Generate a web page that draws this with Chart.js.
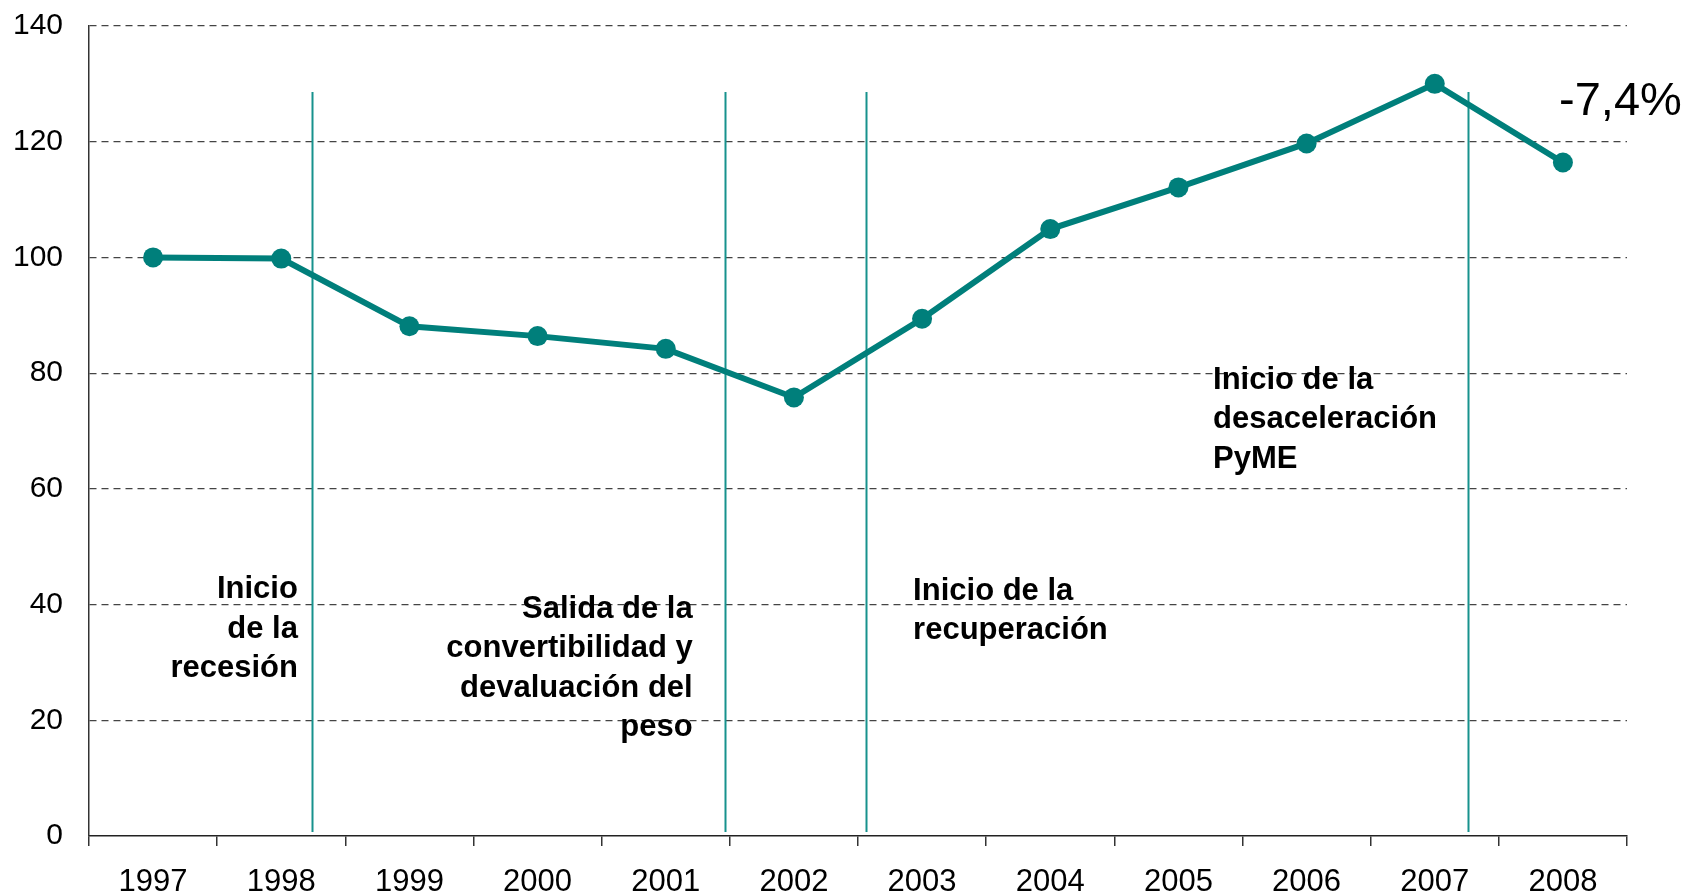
<!DOCTYPE html>
<html>
<head>
<meta charset="utf-8">
<script src="https://cdn.jsdelivr.net/npm/chart.js@4.4.1/dist/chart.umd.min.js"></script>
<style>
  html, body { margin: 0; padding: 0; background: #fff; }
  canvas { display: block; }
</style>
</head>
<body>
<canvas id="pymeChart" width="1688" height="896"></canvas>
<script>
const years = ['1997', '1998', '1999', '2000', '2001', '2002', '2003', '2004', '2005', '2006', '2007', '2008'];
const indice = [100, 99.8, 88.1, 86.4, 84.2, 75.8, 89.4, 104.9, 112.1, 119.7, 130.0, 116.4];
const yTicks = [0, 20, 40, 60, 80, 100, 120, 140];

// cortes entre etapas (posicion en el eje de categorias)
const cortes = [1.24, 4.46, 5.56, 10.26];
const corteDesde = 0.7;
const corteHasta = 128.6;

// textos de cada etapa: [x en categorias, y en valor, alineacion, lineas]
const etapas = [
    [1.13, 42.6, 'right', ['Inicio', 'de la', 'recesión']],
    [4.21, 39.2, 'right', ['Salida de la', 'convertibilidad y', 'devaluación del', 'peso']],
    [5.93, 42.3, 'left', ['Inicio de la', 'recuperación']],
    [8.27, 78.8, 'left', ['Inicio de la', 'desaceleración', 'PyME']]
];
const variacion = [10.97, 126.9, '-7,4%'];

const teal = '#007f7b';
const FONT = '"Liberation Sans", Arial, sans-serif';

function texto(ctx, t, x, y, align) {
    ctx.textAlign = align;
    ctx.textBaseline = 'middle';
    ctx.fillText(t, x, y);
}

const etapasPlugin = {
    id: 'etapas',
    beforeDatasetsDraw(chart) {
        const { ctx, scales: { x, y } } = chart;
        ctx.save();
        ctx.strokeStyle = '#17928d';
        ctx.lineWidth = 2;
        cortes.forEach(c => {
            const px = Math.round(x.getPixelForValue(c)) + 0.5;
            ctx.beginPath();
            ctx.moveTo(px, y.getPixelForValue(corteHasta));
            ctx.lineTo(px, y.getPixelForValue(corteDesde));
            ctx.stroke();
        });
        ctx.restore();
    },
    afterDraw(chart) {
        const { ctx, chartArea, scales: { x, y } } = chart;
        ctx.save();
        ctx.fillStyle = '#000';

        // etiquetas de los ejes
        ctx.font = '30px ' + FONT;
        yTicks.forEach(v => texto(ctx, String(v), chartArea.left - 26, y.getPixelForValue(v), 'right'));
        ctx.font = '31px ' + FONT;
        years.forEach((l, i) => texto(ctx, l, x.getPixelForValue(i), chartArea.bottom + 46, 'center'));

        // textos de las etapas
        ctx.font = 'bold 31px ' + FONT;
        etapas.forEach(([cx, cy, align, lineas]) => {
            const px = x.getPixelForValue(cx);
            const py = y.getPixelForValue(cy);
            lineas.forEach((t, i) => texto(ctx, t, px, py + i * 39.5, align));
        });
        ctx.font = '47px ' + FONT;
        texto(ctx, variacion[2], x.getPixelForValue(variacion[0]), y.getPixelForValue(variacion[1]), 'left');
        ctx.restore();
    }
};

const ctx = document.getElementById('pymeChart').getContext('2d');
const chart = new Chart(ctx, {
    type: 'line',
    data: {
        labels: years,
        datasets: [{
            data: indice,
            borderColor: teal,
            backgroundColor: teal,
            borderWidth: 6,
            pointRadius: 10,
            pointBackgroundColor: teal,
            pointBorderWidth: 0,
            tension: 0
        }]
    },
    options: {
        responsive: false,
        animation: false,
        layout: { padding: { left: 13, right: 61, top: 26, bottom: 0 } },
        plugins: { legend: { display: false }, tooltip: { enabled: false } },
        scales: {
            x: {
                offset: true,
                afterFit: axis => { axis.height = 60; },
                grid: { offset: true, drawOnChartArea: false, drawTicks: true, tickLength: 10, color: '#333', lineWidth: 1.5 },
                border: { color: '#222', width: 1.5 },
                ticks: { color: 'rgba(0,0,0,0)', font: { size: 8 }, maxRotation: 0, autoSkip: false }
            },
            y: {
                min: 0,
                max: 140,
                afterBuildTicks: axis => { axis.ticks = yTicks.map(v => ({ value: v })); },
                afterFit: axis => { axis.width = 76; },
                grid: {
                    drawTicks: false,
                    color: ctx => ctx.tick.value === 0 ? 'rgba(0,0,0,0)' : '#444',
                    lineWidth: 1.2
                },
                border: { color: '#333', width: 1.5, dash: [7, 5] },
                ticks: { color: 'rgba(0,0,0,0)', font: { size: 8 } }
            }
        }
    },
    plugins: [etapasPlugin]
});
</script>
</body>
</html>
